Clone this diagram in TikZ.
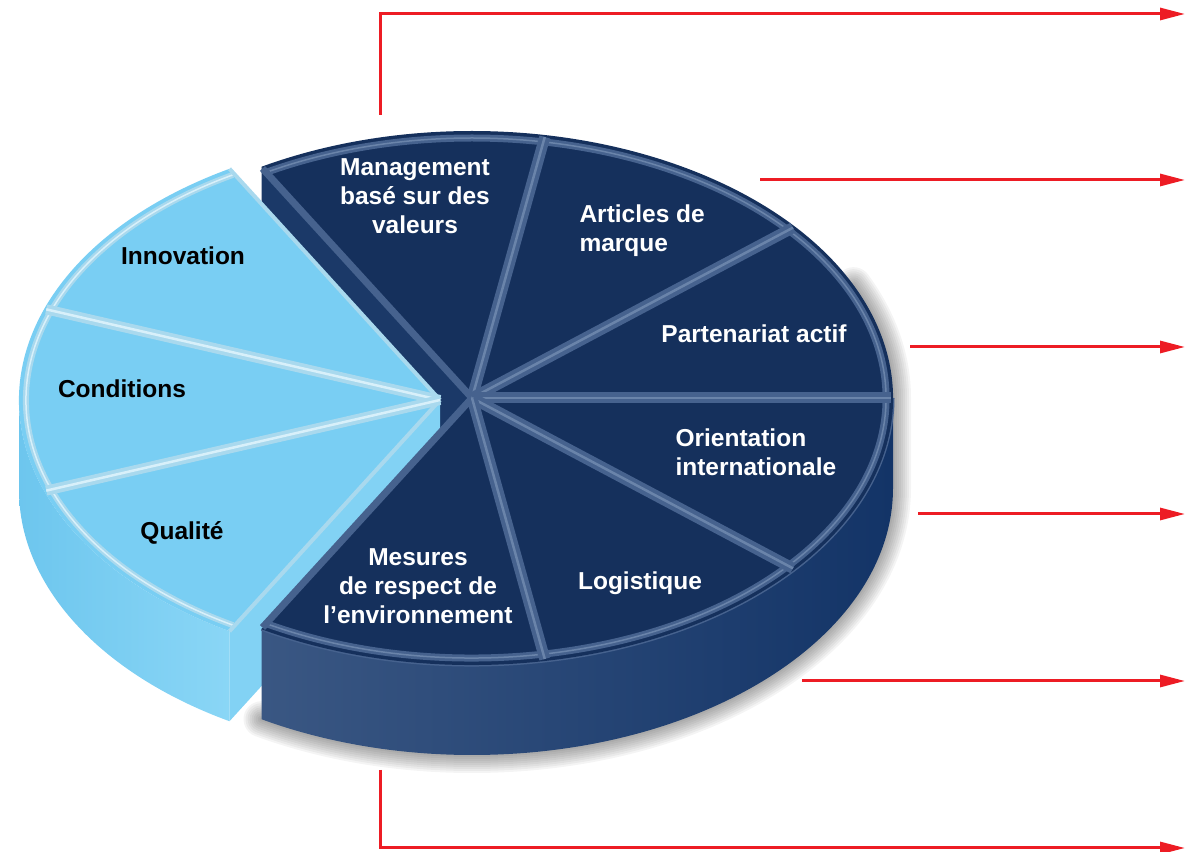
\documentclass[tikz,border=0pt]{standalone}
\usepackage{fontspec}
\setmainfont{Liberation Sans}
\usetikzlibrary{arrows.meta, calc}

\definecolor{navytop}{HTML}{15305C}
\definecolor{navycut}{HTML}{1B3968}
\definecolor{navyridge}{HTML}{46628E}
\definecolor{navyshine}{HTML}{6A84AA}
\definecolor{navysideA}{HTML}{3A5783}
\definecolor{navysideM}{HTML}{2E4F80}
\definecolor{navysideB}{HTML}{133467}
\definecolor{skytop}{HTML}{79CEF3}
\definecolor{skycut}{HTML}{82D2F4}
\definecolor{skysideA}{HTML}{6DC6EE}
\definecolor{skysideB}{HTML}{8AD6F6}
\definecolor{skyridge}{HTML}{A9D9EE}
\definecolor{skyshine}{HTML}{D8F0FA}
\definecolor{arrowred}{HTML}{ED1C24}

\begin{document}
\begin{tikzpicture}[x=1pt, y=1pt,
    every node/.style={font=\fontsize{24.5}{29}\selectfont\bfseries},
    pieradius/.style={x radius=421pt, y radius=267pt},
    rimradius/.style={x radius=414pt, y radius=260pt},
    darklabel/.style={text=white, align=center},
    lightlabel/.style={text=black, align=center},
    ridge/.style={draw=navyridge, line width=11pt},
    ridgeshine/.style={draw=navyshine, line width=2.5pt},
    skyridgeline/.style={draw=skyridge, line width=10pt},
    skyshineline/.style={draw=skyshine, line width=2.5pt},
    redarrow/.style={draw=arrowred, line width=3pt, -{Triangle[length=25pt, width=12pt]}}
]

\useasboundingbox (0,0) rectangle (1187,852);

\coordinate (D) at (472,454);
\coordinate (L) at (440,452);

% soft shadow under the dark part
\foreach \w in {4,8,...,36}
    \draw[black, opacity=0.045, line width=\w pt, line cap=round, line join=round, shift={(7,-8)}]
        ($(D)+(25:421pt and 267pt)$) arc[pieradius, start angle=25, end angle=0] -- ++(0,-90)
        arc[pieradius, start angle=0, end angle=-120];

% hidden cut face of the dark part
\fill[navycut] (D) -- ($(D)+(120:421pt and 267pt)$) -- ++(0,-90) -- ($(D)+(0,-90)$) -- cycle;

% light part
\shade[left color=skysideA, right color=skysideB]
    ($(L)+(180:421pt and 267pt)$) arc[pieradius, start angle=180, end angle=240] -- ++(0,-90)
    arc[pieradius, start angle=240, end angle=180] -- cycle;
\fill[skycut] (L) -- ($(L)+(240:421pt and 267pt)$) -- ++(0,-90) -- ($(L)+(0,-90)$) -- cycle;
\fill[skytop] (L) -- ($(L)+(120:421pt and 267pt)$) arc[pieradius, start angle=120, end angle=240] -- cycle;
\draw[draw=skyridge, line width=6pt] ($(L)+(120:414pt and 260pt)$) arc[rimradius, start angle=120, end angle=240];
\draw[draw=skyshine, line width=1.5pt] ($(L)+(120:414pt and 260pt)$) arc[rimradius, start angle=120, end angle=240];
\foreach \a in {120,240}
    \draw[draw=skyridge, line width=4pt] (L) -- ($(L)+(\a:421pt and 267pt)$);
\foreach \a in {160,200} {
    \draw[skyridgeline] (L) -- ($(L)+(\a:419pt and 265pt)$);
    \draw[skyshineline] (L) -- ($(L)+(\a:419pt and 265pt)$);
}

\node[lightlabel] (innov) at (183,596) {Innovation};
\node[lightlabel] (cond) at (122,463) {Conditions};
\node[lightlabel] (qual) at (182,319) {Qualité};

% dark part
\shade[left color=navysideA, middle color=navysideM, right color=navysideB]
    ($(D)+(-120:421pt and 267pt)$) arc[pieradius, start angle=-120, end angle=0] -- ++(0,-90)
    arc[pieradius, start angle=0, end angle=-120] -- cycle;
\draw[draw=navyridge, line width=3pt] ($(D)+(-120:421pt and 267pt)$) arc[pieradius, start angle=-120, end angle=0];
\fill[navytop] (D) -- ($(D)+(-120:421pt and 267pt)$) arc[pieradius, start angle=-120, end angle=120] -- cycle;
\draw[draw=navyridge, line width=7pt] ($(D)+(-120:414pt and 260pt)$) arc[rimradius, start angle=-120, end angle=120];
\draw[draw=navyshine, line width=1.5pt] ($(D)+(-120:414pt and 260pt)$) arc[rimradius, start angle=-120, end angle=120];
\foreach \a in {120,-120}
    \draw[draw=navyridge, line width=7pt] (D) -- ($(D)+(\a:419pt and 265pt)$);
\foreach \a in {80,40,0,-40,-80} {
    \draw[ridge] (D) -- ($(D)+(\a:419pt and 265pt)$);
    \draw[ridgeshine] (D) -- ($(D)+(\a:419pt and 265pt)$);
}

\node[darklabel] (mgmt) at (415,656) {Management\\basé sur des\\valeurs};
\node[darklabel, anchor=west, align=left] (articles) at (576,621) {Articles de\\marque};
\node[darklabel] (partner) at (754,518) {Partenariat actif};
\node[darklabel, anchor=west, align=left] (orient) at (672,400) {Orientation\\internationale};
\node[darklabel] (logist) at (640,269) {Logistique};
\node[darklabel] (mesures) at (418,266) {Mesures\\de respect de\\l’environnement};

% red arrows
\coordinate (s1) at (380,737);  \coordinate (e1) at (1185,838);
\coordinate (s2) at (760,672);  \coordinate (e2) at (1185,672);
\coordinate (s3) at (910,505);  \coordinate (e3) at (1185,505);
\coordinate (s4) at (918,338);  \coordinate (e4) at (1185,338);
\coordinate (s5) at (802,171);  \coordinate (e5) at (1185,171);
\coordinate (s6) at (380,82);   \coordinate (e6) at (1185,4);

\draw[redarrow] (s1) |- (e1);
\draw[redarrow] (s2) -- (e2);
\draw[redarrow] (s3) -- (e3);
\draw[redarrow] (s4) -- (e4);
\draw[redarrow] (s5) -- (e5);
\draw[redarrow] (s6) |- (e6);

\end{tikzpicture}
\end{document}
